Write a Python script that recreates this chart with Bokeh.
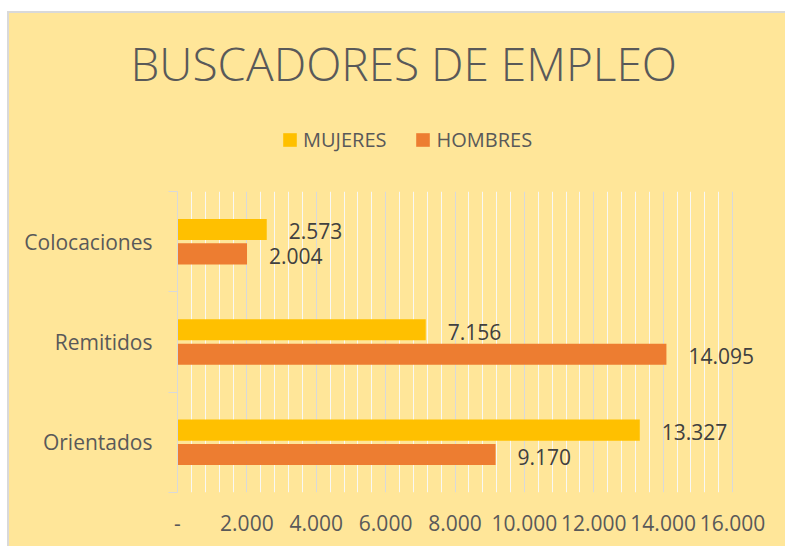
from bokeh.plotting import figure
from bokeh.layouts import column, row
from bokeh.models import (Range1d, FixedTicker, LabelSet, Legend, LegendItem,
                          ColumnDataSource, Spacer)
from bokeh.core.properties import value
from bokeh.embed import file_html
from bokeh.resources import INLINE

# ---- data ----
title_text = "BUSCADORES DE EMPLEO"
categories = ["Orientados", "Remitidos", "Colocaciones"]
series_names = ["MUJERES", "HOMBRES"]
mujeres = [13327, 7156, 2573]
hombres = [9170, 14095, 2004]
x_ticks = [0, 2000, 4000, 6000, 8000, 10000, 12000, 14000, 16000]
x_tick_labels = ["-", "2.000", "4.000", "6.000", "8.000", "10.000", "12.000", "14.000", "16.000"]

# ---- styling ----
BG = "#FFE699"
EDGE = "#D9D9D9"
C_M = "#FFC000"
C_H = "#ED7D31"
TXT = "#595959"
FONT = "Open Sans"

CHART_W = 776
HEAD_PAD = 11
HEAD_H = 147
MAIN_H = 375
GRID_W = 555          # pixels spanned by the value axis 0..16000
FRAME_W = 600         # frame extends a bit further so the data labels fit
LEFT = 168
RIGHT = CHART_W - LEFT - FRAME_W
FRAME_H = 301
MAIN_TOP = 20


def fmt(v):
    return f"{v:,}".replace(",", ".")


cat_pos = [i + 0.5 for i in range(len(categories))]
off = 0.122
src = ColumnDataSource(dict(
    y_m=[c + off for c in cat_pos],
    y_h=[c - off for c in cat_pos],
    m=mujeres, h=hombres,
    lm=[fmt(v) for v in mujeres],
    lh=[fmt(v) for v in hombres],
))

x_end = x_ticks[-1] * FRAME_W / GRID_W
xr = Range1d(x_ticks[0], x_end)

# ---------------- header: title + legend ----------------
# the header's y range lies far above the data, so its legend-key bars fall below the canvas
head = figure(width=CHART_W, height=HEAD_H, x_range=xr, y_range=Range1d(100, 110),
              x_axis_type=None, y_axis_type=None, output_backend="svg", toolbar_location=None,
              min_border_left=LEFT, min_border_right=RIGHT, min_border_top=0, min_border_bottom=0,
              background_fill_color=BG, border_fill_color=None,
              outline_line_color=None, styles={"background-color": BG})
head.xgrid.visible = False
head.ygrid.visible = False
head.title.text = title_text
head.title.align = "left"
head.title.offset = -47
head.title.text_font = "Open Sans Light, Open Sans"
head.title.text_font_style = "normal"
head.title.text_font_size = "46px"
head.title.text_color = TXT

hm = head.hbar(y="y_m", left=0, right="m", height=0.21, source=src, fill_color=C_M, line_color=None)
hh = head.hbar(y="y_h", left=0, right="h", height=0.21, source=src, fill_color=C_H, line_color=None)

legend = Legend(items=[LegendItem(label=series_names[0], renderers=[hm]),
                       LegendItem(label=series_names[1], renderers=[hh])],
                orientation="horizontal", location=(104, 18),
                glyph_width=17, glyph_height=17, label_standoff=5, spacing=28,
                padding=0, margin=0, border_line_color=None, background_fill_alpha=0,
                label_text_font=FONT, label_text_font_size="20px", label_text_color=TXT,
                label_height=17)
head.add_layout(legend)

# ---------------- main chart ----------------
p = figure(width=CHART_W, height=MAIN_H,
           x_range=xr, y_range=Range1d(0, len(categories)),
           output_backend="svg", toolbar_location=None,
           min_border_left=LEFT, min_border_right=RIGHT,
           min_border_top=MAIN_TOP, min_border_bottom=MAIN_H - MAIN_TOP - FRAME_H,
           background_fill_color=BG, border_fill_color=None, outline_line_color=None,
           styles={"background-color": BG})

minor_x = [v for v in range(x_ticks[0], x_ticks[-1] + 1, 400) if v not in x_ticks]
xt = FixedTicker(ticks=x_ticks, minor_ticks=minor_x)

xa = p.xaxis[0]
xa.ticker = xt
xa.major_label_overrides = {t: l for t, l in zip(x_ticks, x_tick_labels)}
xa.axis_line_color = None
xa.major_tick_line_color = None
xa.minor_tick_line_color = None
xa.major_label_text_font = FONT
xa.major_label_text_font_size = "21px"
xa.major_label_text_color = TXT
xa.major_label_standoff = 16

p.xgrid.ticker = xt
p.xgrid.grid_line_color = EDGE
p.xgrid.minor_grid_line_color = "#F8F8F4"
p.ygrid.grid_line_color = None

ya = p.yaxis[0]
ya.ticker = FixedTicker(ticks=cat_pos, minor_ticks=list(range(len(categories) + 1)))
ya.major_label_overrides = {c: n for c, n in zip(cat_pos, categories)}
ya.axis_line_color = EDGE
ya.major_tick_line_color = None
ya.major_tick_out = 0
ya.minor_tick_line_color = EDGE
ya.minor_tick_out = 9
ya.minor_tick_in = 0
ya.major_label_text_font = FONT
ya.major_label_text_font_size = "21px"
ya.major_label_text_color = TXT
ya.major_label_standoff = 16

p.hbar(y="y_m", left=0, right="m", height=0.21, source=src, fill_color=C_M, line_color=None)
p.hbar(y="y_h", left=0, right="h", height=0.21, source=src, fill_color=C_H, line_color=None)

for xcol, ycol, tcol in (("m", "y_m", "lm"), ("h", "y_h", "lh")):
    p.add_layout(LabelSet(x=xcol, y=ycol, text=tcol, source=src, x_offset=22, y_offset=-2,
                          text_align="left", text_baseline="middle", text_font=value(FONT),
                          text_font_size="21px", text_color="#404040"))

# ---------------- page: white margin, grey chart edge, yellow chart area ----------------
chart = column(Spacer(width=CHART_W, height=HEAD_PAD, styles={"background-color": BG}),
               head, p, spacing=0)
total_h = HEAD_PAD + HEAD_H + MAIN_H
framed = column(Spacer(width=CHART_W + 2, height=2, styles={"background-color": EDGE}),
                row(Spacer(width=2, height=total_h, styles={"background-color": EDGE}),
                    chart, spacing=0),
                spacing=0)
layout = column(Spacer(height=11), row(Spacer(width=7), framed, spacing=0), spacing=0)

open("out.html", "w").write(file_html(layout, INLINE))
